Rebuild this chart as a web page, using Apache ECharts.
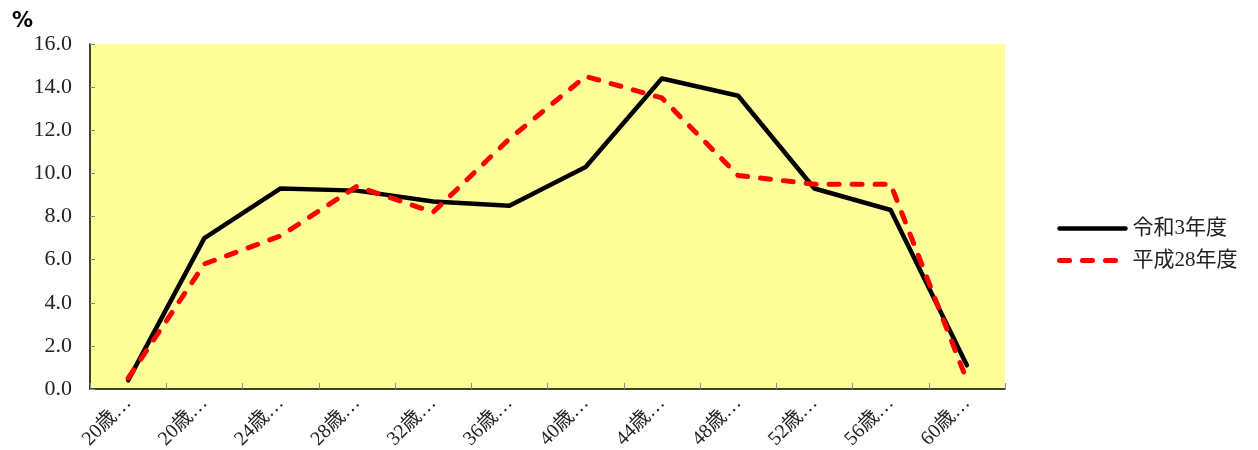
<!DOCTYPE html>
<html><head><meta charset="utf-8">
<script src="https://cdn.jsdelivr.net/npm/echarts@6/dist/echarts.min.js"></script>
<style>html,body{margin:0;padding:0;background:#fff}#c{width:1258px;height:450px}</style>
</head><body><div id="c"></div>
<script>
const categories = ['20歳…','20歳…','24歳…','28歳…','32歳…','36歳…','40歳…','44歳…','48歳…','52歳…','56歳…','60歳…'];
const seriesNames = ['令和3年度','平成28年度'];
const reiwa3 = [0.4, 7.0, 9.3, 9.2, 8.7, 8.5, 10.3, 14.4, 13.6, 9.3, 8.3, 1.1];
const heisei28 = [0.5, 5.8, 7.1, 9.4, 8.2, 11.6, 14.5, 13.5, 9.9, 9.5, 9.5, 0.4];
const yTicks = {min: 0, max: 16, interval: 2};
const yUnit = '%';

const serif = "'Liberation Serif','Noto Sans CJK JP',serif";
const chart = echarts.init(document.getElementById('c'), null, {renderer: 'canvas'});
chart.setOption({
  animation: false,
  backgroundColor: '#ffffff',
  title: {text: yUnit, left: 7, top: 6, textStyle: {fontFamily: "'DejaVu Sans',sans-serif", fontWeight: 'bold', fontSize: 21, color: '#000'}},
  grid: {left: 90, right: 253, top: 44, bottom: 61, show: true, backgroundColor: '#FFFF99', borderWidth: 0, outerBoundsMode: 'none', containLabel: false},
  legend: {
    orient: 'vertical', left: 1052, top: 213, itemWidth: 66, itemHeight: 14, itemGap: 11,
    textStyle: {fontFamily: serif, fontSize: 21, color: '#222', padding: [0,0,0,2]},
    data: [
      {name: seriesNames[0], itemStyle: {opacity: 0}, lineStyle: {width: 4.5}},
      {name: seriesNames[1], itemStyle: {opacity: 0}, lineStyle: {width: 5}}
    ]
  },
  xAxis: {
    type: 'category', data: categories, boundaryGap: true,
    axisLine: {show: true, lineStyle: {color: '#000', width: 1.5}},
    axisTick: {show: true, inside: true, length: 6, lineStyle: {color: '#888'}},
    axisLabel: {rotate: 45, interval: 0, margin: 11, fontFamily: serif, fontSize: 20, color: '#222'},
    splitLine: {show: false}
  },
  yAxis: {
    type: 'value', min: yTicks.min, max: yTicks.max, interval: yTicks.interval,
    axisLine: {show: true, lineStyle: {color: '#000', width: 1.5}},
    axisTick: {show: true, inside: true, length: 5, lineStyle: {color: '#888'}},
    axisLabel: {margin: 18, fontFamily: serif, fontSize: 22, color: '#222', formatter: v => v.toFixed(1)},
    splitLine: {show: false}
  },
  series: [
    {name: seriesNames[0], type: 'line', data: reiwa3, symbol: 'none',
     lineStyle: {color: '#000', width: 4.5, cap: 'round', join: 'round'}, itemStyle: {color: '#000'}, z: 3},
    {name: seriesNames[1], type: 'line', data: heisei28, symbol: 'none',
     lineStyle: {color: '#FF0000', width: 5, type: [10, 13], cap: 'round', join: 'round'}, itemStyle: {color: '#FF0000'}, z: 4}
  ]
});
</script></body></html>
